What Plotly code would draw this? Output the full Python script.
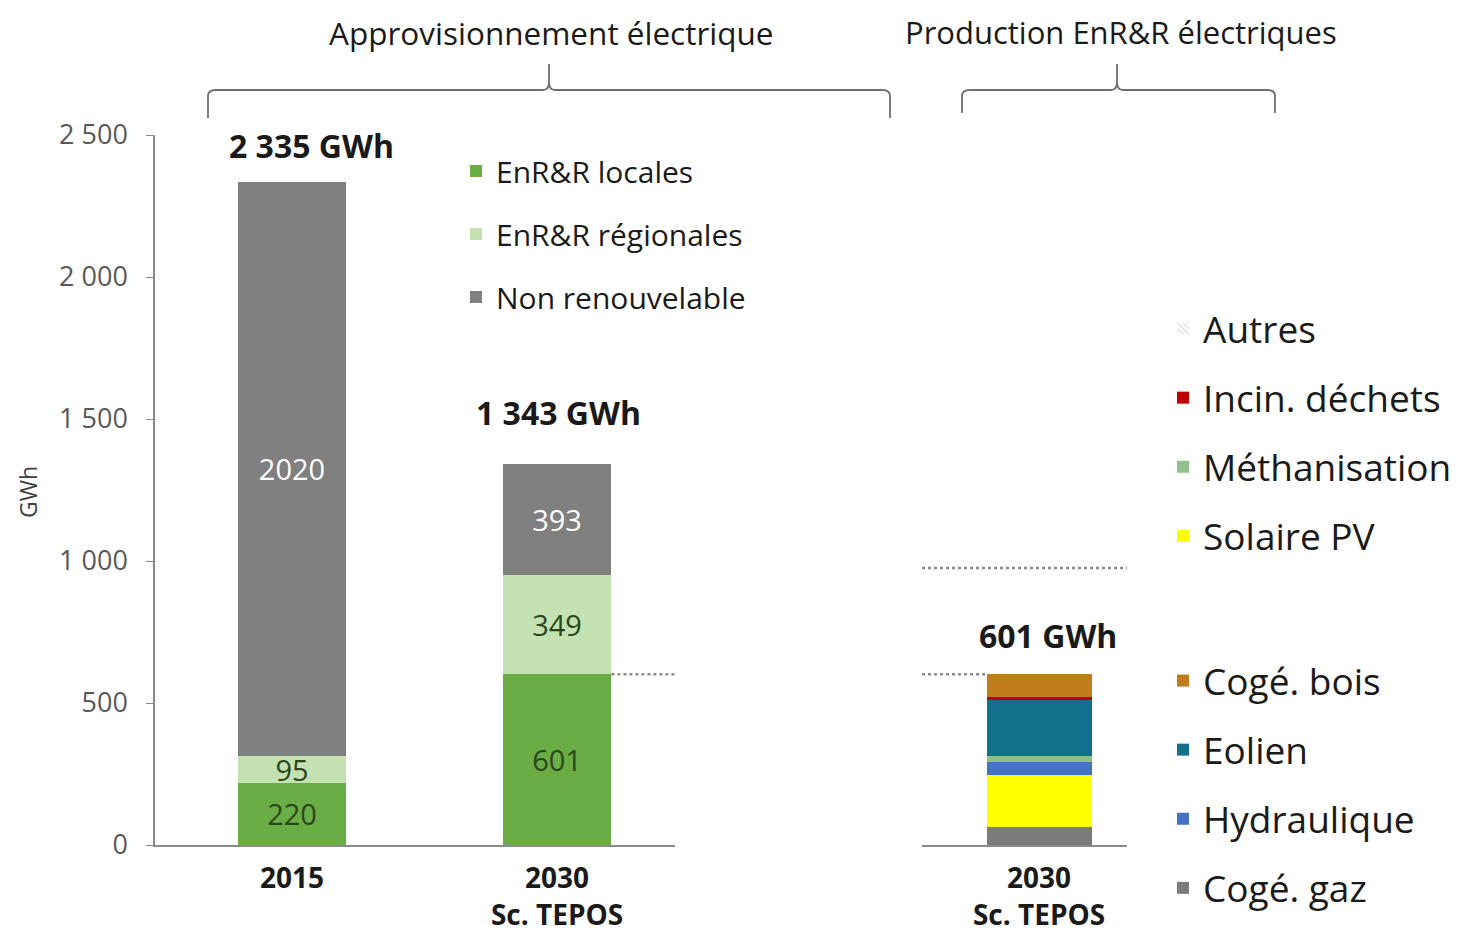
import plotly.graph_objects as go

OFF = 8  # default page margin of the html body
W, H = 1466 - 2 * OFF, 943 - 2 * OFF
FONT = "Open Sans"

# ---------------- data ----------------
left_categories = ["2015", "2030<br>Sc. TEPOS"]
left_series = ["EnR&R locales", "EnR&R régionales", "Non renouvelable"]
enr_locales = [220, 601]
enr_regionales = [95, 349]
non_renouvelable = [2020, 393]

right_category = ["2030<br>Sc. TEPOS"]
right_series = ["Cogé. gaz", "Solaire PV", "Hydraulique", "Méthanisation",
                "Eolien", "Incin. déchets", "Cogé. bois", "Autres"]
right_values = [63, 182, 47, 23, 194, 13, 79, 0]

ref_level_low = 601
ref_level_high = 975

y_tickvals = [0, 500, 1000, 1500, 2000, 2500]
y_ticktext = ["0", "500", "1 000", "1 500", "2 000", "2 500"]

# ---------------- styles ----------------
left_colors = ["#6aad45", "#c3e1b1", "#808080"]
left_text_colors = ["#2a461c", "#2a461c", "#ffffff"]
right_colors = {"Cogé. gaz": "#7b7b7b", "Solaire PV": "#ffff00", "Hydraulique": "#4472c4",
                "Méthanisation": "#8fc08a", "Eolien": "#12708c", "Incin. déchets": "#c00000",
                "Cogé. bois": "#bf7d1c", "Autres": "#ffffff"}
right_rank = {"Autres": 1, "Incin. déchets": 2, "Méthanisation": 3, "Solaire PV": 4,
              "Cogé. bois": 5, "Eolien": 6, "Hydraulique": 7, "Cogé. gaz": 8}
right_legend = {"Autres": "legend2", "Incin. déchets": "legend2", "Méthanisation": "legend2",
                "Solaire PV": "legend2", "Cogé. bois": "legend3", "Eolien": "legend3",
                "Hydraulique": "legend3", "Cogé. gaz": "legend3"}

def px(x):
    return (x - OFF) / W

def py(y):
    return 1 - (y - OFF) / H

left_x = [0, 1]
right_x = [0]
LW = 0.41
RW = 0.512

fig = go.Figure()

left_data = [enr_locales, enr_regionales, non_renouvelable]
for name, vals, col, tcol in zip(left_series, left_data, left_colors, left_text_colors):
    fig.add_trace(go.Bar(
        x=left_x, y=vals, name=name, width=LW,
        marker=dict(color=col, line=dict(width=0)),
        text=[str(v) for v in vals], textposition="inside", insidetextanchor="middle",
        constraintext="none", textangle=0,
        textfont=dict(family=FONT, size=29, color=tcol),
        xaxis="x", yaxis="y", legend="legend", legendgroup=name,
        hoverinfo="skip"))

for name, v in zip(right_series, right_values):
    marker = dict(color=right_colors[name], line=dict(width=0))
    if name == "Autres":
        marker = dict(color="#ffffff", line=dict(width=0),
                      pattern=dict(shape="\\", fgcolor="#c0c0c0", bgcolor="#ffffff", size=5, solidity=0.35))
    fig.add_trace(go.Bar(
        x=right_x, y=[v], name=name, width=RW, marker=marker,
        xaxis="x2", yaxis="y2", legend=right_legend[name], legendgroup=name,
        legendrank=right_rank[name], hoverinfo="skip"))

# totals
totals_left = [a + b + c for a, b, c in zip(enr_locales, enr_regionales, non_renouvelable)]
total_right = sum(right_values)

def fmt(v):
    return f"{v:,}".replace(",", " ") + " GWh"

ann = []
for xi, t, ys, xs in zip(left_x, totals_left, [13, 28], [19, 1]):
    ann.append(dict(x=xi, y=t, xref="x", yref="y", text=f"<b>{fmt(t)}</b>", showarrow=False,
                    yanchor="bottom", yshift=ys, xshift=xs,
                    font=dict(family=FONT, size=32, color="#1a1a1a")))
ann.append(dict(x=right_x[0], y=total_right, xref="x2", yref="y2", text=f"<b>{fmt(total_right)}</b>",
                showarrow=False, yanchor="bottom", yshift=15, xshift=9,
                font=dict(family=FONT, size=32, color="#1a1a1a")))
ann.append(dict(x=px(551), y=py(32), xref="paper", yref="paper", text="Approvisionnement électrique",
                showarrow=False, xanchor="center", yanchor="middle",
                font=dict(family=FONT, size=31.5, color="#1a1a1a")))
ann.append(dict(x=px(1121), y=py(32), xref="paper", yref="paper", text="Production EnR&R électriques",
                showarrow=False, xanchor="center", yanchor="middle",
                font=dict(family=FONT, size=31, color="#1a1a1a")))
ann.append(dict(x=px(28), y=py(492), xref="paper", yref="paper", text="GWh", textangle=-90,
                showarrow=False, xanchor="center", yanchor="middle",
                font=dict(family=FONT, size=23, color="#404040")))

# braces
def brace(x0, x1, xm, ytop, yline, yend):
    pts = (f"M {px(x0)},{py(yend)} L {px(x0)},{py(yline+6)} Q {px(x0)},{py(yline)} {px(x0+8)},{py(yline)} "
           f"L {px(xm-6)},{py(yline)} Q {px(xm)},{py(yline)} {px(xm)},{py(yline-8)} L {px(xm)},{py(ytop)} "
           f"L {px(xm)},{py(yline-8)} Q {px(xm)},{py(yline)} {px(xm+6)},{py(yline)} "
           f"L {px(x1-8)},{py(yline)} Q {px(x1)},{py(yline)} {px(x1)},{py(yline+6)} L {px(x1)},{py(yend)}")
    return dict(type="path", path=pts, xref="paper", yref="paper",
                line=dict(color="#6f6f6f", width=1.8))

shapes = [brace(208, 890, 549, 64, 90, 118), brace(962, 1275, 1117, 64, 90, 113)]

# dotted reference lines
dot = dict(color="#8c8c8c", width=2.5, dash="dot")
shapes.append(dict(type="line", xref="x", yref="y", x0=1 + LW / 2, x1=1.445,
                   y0=ref_level_low, y1=ref_level_low, line=dot))
shapes.append(dict(type="line", xref="x2", yref="y2", x0=-0.571, x1=-RW / 2,
                   y0=ref_level_low, y1=ref_level_low, line=dot))
shapes.append(dict(type="line", xref="x2", yref="y2", x0=-0.571, x1=0.429,
                   y0=ref_level_high, y1=ref_level_high, line=dot))

ydom = [py(845), py(135)]
fig.update_layout(
    width=W, height=H, margin=dict(l=0, r=0, t=0, b=0, autoexpand=False),
    plot_bgcolor="white", paper_bgcolor="white", barmode="stack",
    font=dict(family=FONT, color="#262626"),
    showlegend=True,
    xaxis=dict(domain=[px(155), px(675)], range=[-0.517, 1.445], tickvals=left_x,
               ticktext=[f"<b>{c}</b>" for c in left_categories], showline=True,
               linecolor="#8a8a8a", linewidth=1.5, showgrid=False, zeroline=False, ticks="",
               tickfont=dict(family=FONT, size=28, color="#1a1a1a"), ticklabelstandoff=8,
               automargin=False),
    yaxis=dict(domain=ydom, range=[0, 2500], tickvals=y_tickvals, ticktext=y_ticktext,
               showline=True, linecolor="#8a8a8a", linewidth=1.5, ticks="outside", ticklen=7,
               tickcolor="#8a8a8a", showgrid=False, zeroline=False,
               tickfont=dict(family=FONT, size=27, color="#595959"), ticklabelstandoff=13,
               automargin=False),
    xaxis2=dict(domain=[px(922), px(1127)], range=[-0.571, 0.429], tickvals=right_x,
                ticktext=[f"<b>{c}</b>" for c in right_category], showline=True,
                linecolor="#8a8a8a", linewidth=1.5, showgrid=False, zeroline=False, ticks="",
                tickfont=dict(family=FONT, size=28, color="#1a1a1a"), ticklabelstandoff=8,
                automargin=False),
    yaxis2=dict(domain=ydom, range=[0, 2500], anchor="x2", visible=False),
    legend=dict(x=px(456), y=py(145), xanchor="left", yanchor="top", traceorder="grouped",
                tracegroupgap=21, font=dict(family=FONT, size=30, color="#1a1a1a"),
                bgcolor="rgba(0,0,0,0)", itemwidth=30),
    legend2=dict(x=px(1163), y=py(298), xanchor="left", yanchor="top", traceorder="grouped",
                 tracegroupgap=18, font=dict(family=FONT, size=37, color="#1a1a1a"),
                 bgcolor="rgba(0,0,0,0)", itemwidth=30),
    legend3=dict(x=px(1163), y=py(650), xanchor="left", yanchor="top", traceorder="grouped",
                 tracegroupgap=18, font=dict(family=FONT, size=37, color="#1a1a1a"),
                 bgcolor="rgba(0,0,0,0)", itemwidth=30),
    annotations=ann, shapes=shapes,
)
fig.update_xaxes(fixedrange=True)
fig.write_html("out.html")
